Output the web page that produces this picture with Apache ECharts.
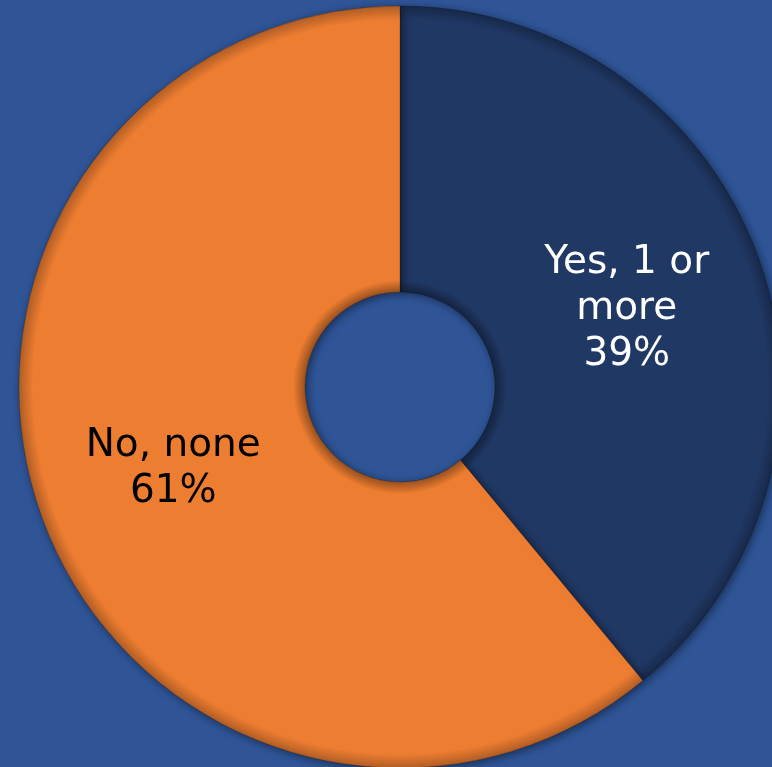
<!DOCTYPE html>
<html>
<head>
<meta charset="utf-8">
<script src="https://cdn.jsdelivr.net/npm/echarts@6/dist/echarts.min.js"></script>
<style>
html,body{margin:0;padding:0;background:#2F5597;}
#chart{width:772px;height:767px;}
</style>
</head>
<body>
<div id="chart"></div>
<script>
const categories = ['Yes, 1 or\nmore', 'No, none'];
const values = [39, 61];
const colors = ['#203864', '#ED7D31'];
const labelColors = ['#FFFFFF', '#000000'];

const chart = echarts.init(document.getElementById('chart'), null, {renderer: 'canvas'});
const cx = 400, cy = 387, rOut = 381, rIn = 95;
chart.setOption({
  backgroundColor: '#2F5597',
  animation: false,
  series: [{
    type: 'pie',
    center: [cx, cy],
    radius: [rIn, rOut],
    startAngle: 90,
    clockwise: true,
    avoidLabelOverlap: false,
    data: categories.map((c, i) => ({
      name: c, value: values[i],
      itemStyle: {color: colors[i]},
      label: {color: labelColors[i], offset: i === 0 ? [0, 4] : [0, 0]}
    })),
    itemStyle: {
      shadowBlur: 8, shadowColor: 'rgba(0,0,0,0.45)', shadowOffsetX: 2, shadowOffsetY: 2,
      borderWidth: 0.6, borderColor: 'rgba(0,0,0,0.35)'
    },
    label: {
      show: true,
      position: 'inside',
      formatter: p => p.name + '\n' + p.percent.toFixed(0) + '%',
      fontFamily: 'DejaVu Sans',
      fontSize: 39,
      lineHeight: 46,
      align: 'center'
    },
    labelLine: {show: false}
  }, {
    type: 'pie',
    silent: true,
    center: [cx, cy],
    radius: [rIn, rOut],
    label: {show: false},
    labelLine: {show: false},
    data: [{value: 1, itemStyle: {color: {
      type: 'radial', x: cx, y: cy, r: rOut, global: true,
      colorStops: [
        {offset: 0, color: 'rgba(0,0,0,0.35)'},
        {offset: rIn / rOut, color: 'rgba(0,0,0,0.35)'},
        {offset: (rIn + 12) / rOut, color: 'rgba(0,0,0,0)'},
        {offset: (rOut - 14) / rOut, color: 'rgba(0,0,0,0)'},
        {offset: 1, color: 'rgba(0,0,0,0.25)'}
      ]
    }}}]
  }]
});
</script>
</body>
</html>
